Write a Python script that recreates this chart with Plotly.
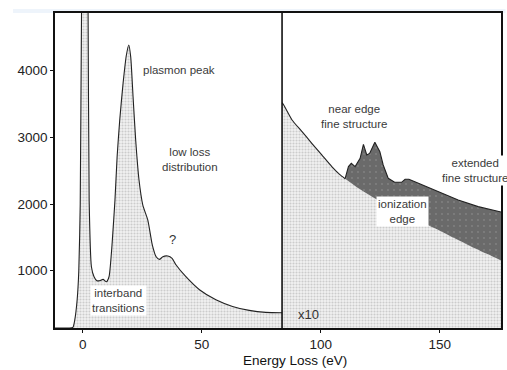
import plotly.graph_objects as go

# ---- data ----
# low-loss spectrum (left panel)
low_x = [-11.7, -6.0, -4.2, -3.4, -2.4, -1.7, -1.1, -0.55, 0.8, 2.2, 2.65, 3.6, 4.7, 5.9, 7.0,
         8.5, 9.9, 11.0, 12.0, 12.4, 13.5, 14.4, 15.5, 16.9, 18.3, 19.3, 20.1, 21.1, 22.2,
         23.6, 25.2, 27.3, 29.2, 30.8, 32.2, 33.6, 35.7, 37.5, 39.2, 43.3, 49.0, 55.9,
         62.9, 69.9, 76.9, 83.7]
low_y = [141, 141, 150, 260, 560, 1000, 2000, 4900, 9000, 4900, 2060, 1060, 910, 850, 850,
         870, 835, 910, 1265, 1460, 2060, 2710, 3260, 3810, 4235, 4385, 4210, 3610, 2960,
         2360, 1985, 1760, 1385, 1210, 1170, 1210, 1220, 1185, 1085, 910, 715, 565,
         465, 405, 375, 370]

# core-loss background (x10 panel)
bg_x = [83.7, 84.4, 87.9, 92.1, 96.2, 100.4, 104.6, 108.0, 110.2, 115.8, 121.5, 128.0,
        135.4, 142.0, 149.4, 156.0, 163.3, 170.0, 175.7]
bg_y = [3520, 3486, 3261, 3086, 2911, 2736, 2561, 2440, 2380, 2236, 2111, 1985,
        1861, 1735, 1611, 1490, 1361, 1250, 1155]

# ionization edge signal
edge_x = [110.2, 111.6, 112.8, 114.4, 116.5, 117.9, 119.3, 120.5, 122.7, 124.8, 126.2,
          128.3, 131.0, 133.9, 135.4, 137.0, 141.0, 149.4, 157.7, 166.1, 175.7]
edge_y = [2380, 2561, 2610, 2561, 2686, 2896, 2736, 2760, 2926, 2786, 2586,
          2386, 2326, 2326, 2371, 2371, 2311, 2186, 2061, 1961, 1880]

edge_onset = 110.2
divider_x = 83.7

x_ticks = [0, 50, 100, 150]
y_ticks = [1000, 2000, 3000, 4000]

FONT = "Arial, Liberation Sans, sans-serif"

light_pat = dict(shape=".", bgcolor="#f1f1f1", fgcolor="#a8a8a8", size=3, solidity=0.4)
dark_pat = dict(shape=".", bgcolor="#6a6a6a", fgcolor="#9a9a9a", size=6, solidity=0.08)

fig = go.Figure()

fig.add_trace(go.Scatter(x=low_x, y=low_y, mode="lines", fill="tozeroy",
                         line=dict(color="#222222", width=1.1, shape="spline", smoothing=0.6),
                         fillpattern=light_pat, fillcolor="#f1f1f1", hoverinfo="skip"))
fig.add_trace(go.Scatter(x=bg_x, y=bg_y, mode="lines", fill="tozeroy",
                         line=dict(color="rgba(0,0,0,0)", width=0, shape="spline", smoothing=0.5),
                         fillpattern=light_pat, fillcolor="#f1f1f1", hoverinfo="skip"))
bgx_edge = [x for x in bg_x if x >= edge_onset]
bgy_edge = [y for x, y in zip(bg_x, bg_y) if x >= edge_onset]
fig.add_trace(go.Scatter(x=bgx_edge, y=bgy_edge, mode="lines",
                         line=dict(color="rgba(0,0,0,0)", width=0, shape="spline", smoothing=0.5),
                         hoverinfo="skip"))
fig.add_trace(go.Scatter(x=edge_x, y=edge_y, mode="lines", fill="tonexty",
                         line=dict(color="#222222", width=1.1),
                         fillpattern=dark_pat, fillcolor="#6a6a6a", hoverinfo="skip"))
bgx_pre = [x for x in bg_x if x <= edge_onset]
bgy_pre = [y for x, y in zip(bg_x, bg_y) if x <= edge_onset]
fig.add_trace(go.Scatter(x=bgx_pre, y=bgy_pre, mode="lines",
                         line=dict(color="#222222", width=1.1, shape="spline", smoothing=0.5),
                         hoverinfo="skip"))

fig.add_shape(type="line", xref="x", yref="paper", x0=divider_x, x1=divider_x, y0=0, y1=1,
              line=dict(color="#111111", width=1.6))
fig.add_shape(type="rect", xref="paper", yref="paper", x0=-0.094, x1=1.01, y0=1.0, y1=1.013,
              line=dict(width=0), fillcolor="#eef4fb", layer="below")

afont = dict(family=FONT, size=11.5, color="#3a3a3a")
ann = [
    dict(x=40.6, y=4010, text="plasmon peak"),
    dict(x=45.2, y=2675, text="low loss<br>distribution"),
    dict(x=37.8, y=1470, text="?", font=dict(family=FONT, size=13, color="#333")),
    dict(x=15.1, y=550, text="interband<br>transitions", bgcolor="white"),
    dict(x=95.0, y=337, text="x10", font=dict(family=FONT, size=13, color="#333")),
    dict(x=113.8, y=3316, text="near edge<br>fine structure"),
    dict(x=164.6, y=2504, text="extended<br>fine structure", bgcolor="white"),
    dict(x=134.3, y=1892, text="ionization<br>edge", bgcolor="white"),
]
for a in ann:
    a.setdefault("font", afont)
    fig.add_annotation(xref="x", yref="y", showarrow=False, borderpad=1, **a)

fig.add_annotation(xref="paper", yref="paper", x=(296 - 55) / 448, y=-0.103, yanchor="middle",
                   text="Energy Loss (eV)", showarrow=False,
                   font=dict(family=FONT, size=13.5, color="#111"))

axis_common = dict(showline=True, mirror=True, linecolor="#111111", linewidth=1.6,
                   showgrid=False, zeroline=False, ticks="outside", ticklen=3,
                   tickcolor="#111111",
                   tickfont=dict(family=FONT, size=13.5, color="#222"))

fig.update_layout(
    width=507, height=370,
    margin=dict(l=55, r=4, t=13, b=42),
    paper_bgcolor="white", plot_bgcolor="white",
    showlegend=False,
    xaxis=dict(range=[-11.7, 175.7], tickvals=x_ticks, ticktext=[str(v) for v in x_ticks], **axis_common),
    yaxis=dict(range=[141, 4865], tickvals=y_ticks, ticktext=[str(v) for v in y_ticks], **axis_common),
)

fig.write_html("out.html")
